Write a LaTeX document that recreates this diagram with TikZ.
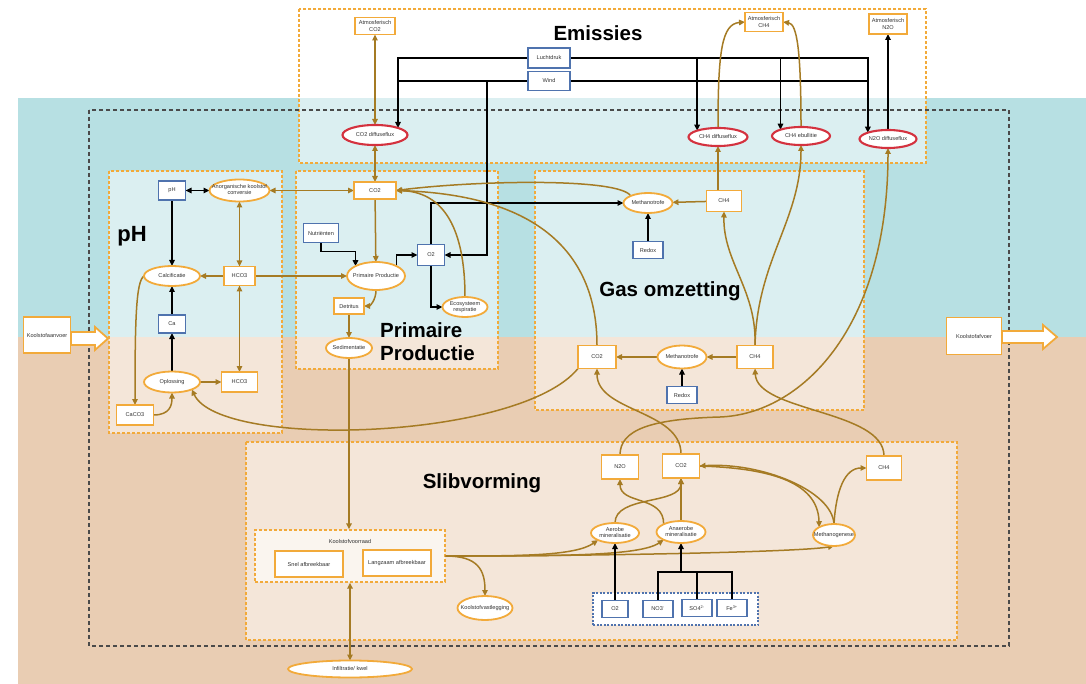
\documentclass[tikz,border=0pt]{standalone}
\usepackage{fontspec}
\setmainfont{Liberation Sans}
\usetikzlibrary{shapes.geometric,arrows.meta}
\definecolor{cTeal}{HTML}{B7E0E3}
\definecolor{cTan}{HTML}{E9CDB3}
\definecolor{cOr}{HTML}{F2AA3A}
\definecolor{cBr}{HTML}{A57B24}
\definecolor{cBl}{HTML}{4F73AE}
\definecolor{cRed}{HTML}{D4323F}
\definecolor{cTxt}{HTML}{333333}
\definecolor{cDash}{HTML}{4A4A4A}
\pgfdeclarelayer{bg}\pgfdeclarelayer{edges}
\pgfsetlayers{bg,edges,main}
\newcommand\zw[1]{\makebox[0pt]{\begin{tabular}{@{}c@{}}#1\end{tabular}}}
\tikzset{
 nd/.style={font=\fontsize{5.6}{6.3}\selectfont, text=cTxt, inner sep=0pt, outer sep=0pt, align=center, fill=white},
 sz/.style 2 args={minimum width=#1, minimum height=#2},
 ob/.style={nd, rectangle, draw=cOr, line width=1.8pt},
 bb/.style={nd, rectangle, draw=cBl, line width=1.7pt},
 oe/.style={nd, ellipse, draw=cOr, line width=1.8pt},
 re/.style={nd, ellipse, draw=cRed, line width=2.1pt},
 tip/.tip={Triangle[length=6pt,width=5.5pt]},
 br/.style={draw=cBr, line width=1.5pt, -tip},
 brr/.style={draw=cBr, line width=1.5pt, tip-tip},
 bk/.style={draw=black, line width=1.5pt, -tip},
 bkk/.style={draw=black, line width=1.5pt, tip-tip},
 bkl/.style={draw=black, line width=1.5pt},
 bkt/.style={draw=black, line width=2.2pt},
 grp/.style={draw=cOr, line width=1.6pt, dash pattern=on 3pt off 2pt, fill=white, fill opacity=0.5},
 ttl/.style={font=\fontsize{20.5}{23}\selectfont\bfseries, text=black, inner sep=0pt},
}
\begin{document}
\begin{tikzpicture}[x=1pt,y=-1pt]
\useasboundingbox (0,0) rectangle (1086,684);
\begin{pgfonlayer}{bg}
\fill[white] (0,0) rectangle (1086,684);
\fill[cTeal] (18,98) rectangle (1086,337);
\fill[cTan] (18,337) rectangle (1086,684);
\draw[grp] (299,9) rectangle (926,163);
\draw[grp] (109,171) rectangle (282,433);
\draw[grp] (296,171) rectangle (498,369);
\draw[grp] (535,171) rectangle (864,410);
\draw[grp] (246,442) rectangle (957,640);
\draw[cDash, line width=1.5pt, dash pattern=on 4pt off 3pt] (89,110) rectangle (1009,646);
\node[draw=cOr, line width=1.4pt, dash pattern=on 3pt off 2pt, fill=white, fill opacity=0.6, sz={190}{52}] (kvr) at (350,556) {};
\node[draw=cBl, line width=1.5pt, dash pattern=on 2pt off 1.5pt, fill=white, sz={165}{32}] (ox) at (675.5,609) {};
% block arrows
\filldraw[fill=white, draw=cOr, line width=1.8pt] (71,332) -- (95,332) -- (95,327) -- (108,338.5) -- (95,350) -- (95,345) -- (71,345) -- cycle;
\filldraw[fill=white, draw=cOr, line width=1.8pt] (1002,331) -- (1043,331) -- (1043,325) -- (1057,337) -- (1043,349) -- (1043,343) -- (1002,343) -- cycle;
\end{pgfonlayer}

% titles
\node[ttl] (tEm) at (598,33) {Emissies};
\node[ttl, font=\fontsize{22}{24}\selectfont\bfseries] (tpH) at (132,236) {pH};
\node[ttl, align=left, anchor=west] (tPP) at (380,342) {Primaire\\Productie};
\node[ttl] (tGas) at (670,291) {Gas omzetting};
\node[ttl] (tSlib) at (482,483) {Slibvorming};

% outer
\node[ob, sz={47}{36}] (aanv) at (47,335) {Koolstofaanvoer};
\node[ob, sz={55}{37}] (afv) at (974,336) {Koolstofafvoer};

% emissies
\node[ob, sz={40}{17}] (atmco2) at (375,26) {Atmosferisch\\CO2};
\node[bb, sz={42}{20}] (lucht) at (549,58) {Luchtdruk};
\node[bb, sz={42}{19}] (wind) at (549,81) {Wind};
\node[re, sz={65}{20}] (co2df) at (375,135) {\zw{CO2 diffuseflux}};
\node[ob, sz={38}{19}] (atmch4) at (764,22) {Atmosferisch\\CH4};
\node[ob, sz={38}{20}] (atmn2o) at (888,24) {Atmosferisch\\N2O};
\node[re, sz={59}{18}] (ch4df) at (718,137) {\zw{CH4 diffuseflux}};
\node[re, sz={58}{18}] (ch4eb) at (801,136) {\zw{CH4 ebullitie}};
\node[re, sz={57}{18}] (n2odf) at (888,139) {\zw{N2O diffuseflux}};

% pH
\node[bb, sz={27}{19}] (ph) at (172,190.5) {pH};
\node[oe, sz={60}{22}] (anorg) at (239.5,190.5) {\zw{Anorganische koolstof\\conversie}};
\node[oe, sz={56}{20}] (calc) at (172,276) {\zw{Calcificatie}};
\node[ob, sz={31}{19}] (hco3a) at (239.5,276) {HCO3};
\node[bb, sz={27}{18}] (ca) at (172,324) {Ca};
\node[oe, sz={56}{21}] (opl) at (172,382) {\zw{Oplossing}};
\node[ob, sz={36}{20}] (hco3b) at (239.5,382) {HCO3};
\node[ob, sz={37}{20}] (caco3) at (135,415) {CaCO3};

% primaire productie
\node[ob, sz={42}{17}] (co2pp) at (375,190.5) {CO2};
\node[bb, sz={35}{19}] (nutr) at (321,233) {Nutriënten};
\node[oe, sz={58}{28}] (pp) at (376,276) {\zw{Primaire Productie}};
\node[ob, sz={30}{16}] (detr) at (349,306) {Detritus};
\node[oe, sz={46}{20}] (sedi) at (349,348) {\zw{Sedimentatie}};
\node[bb, sz={27}{21}] (o2) at (431,255) {O2};
\node[oe, sz={45}{20}] (eco) at (465,307) {\zw{Ecosysteem\\respiratie}};

% gas omzetting
\node[oe, sz={49}{20}] (mta) at (648,203) {\zw{Methanotrofe}};
\node[ob, sz={35}{21}] (ch4a) at (724,201) {CH4};
\node[bb, sz={30}{17}] (rdxa) at (648,250) {Redox};
\node[ob, sz={38}{23}] (co2g) at (597,357) {CO2};
\node[oe, sz={49}{23}] (mtb) at (682,357) {\zw{Methanotrofe}};
\node[ob, sz={36}{23}] (ch4b) at (755,357) {CH4};
\node[bb, sz={30}{17}] (rdxb) at (682,395) {Redox};

% slibvorming
\node[ob, sz={37}{24}] (n2os) at (620,467) {N2O};
\node[ob, sz={37}{24}] (co2s) at (681,466) {CO2};
\node[ob, sz={35}{24}] (ch4s) at (884,468) {CH4};
\node[oe, sz={48}{20}] (aer) at (615,533) {\zw{Aerobe\\mineralisatie}};
\node[oe, sz={49}{22}] (anaer) at (681,532) {\zw{Anaerobe\\mineralisatie}};
\node[oe, sz={42}{22}] (meth) at (834,535) {\zw{Methanogenese}};
\node[bb, sz={26}{17}] (o2s) at (615,609) {O2};
\node[bb, sz={30}{17}] (no3) at (658,609) {NO3\textsuperscript{-}};
\node[bb, sz={30}{17}] (so4) at (697,608) {SO4\textsuperscript{2-}};
\node[bb, sz={30}{17}] (fe) at (732,608) {Fe\textsuperscript{3+}};
\node[nd, fill=none] (kvrl) at (350,541) {Koolstofvoorraad};
\node[ob, sz={68}{26}] (snel) at (309,564) {Snel afbreekbaar};
\node[ob, sz={68}{26}] (langz) at (397,563) {Langzaam afbreekbaar};
\node[oe, sz={55}{24}] (kvast) at (485,608) {\zw{Koolstofvastlegging}};
\node[oe, sz={124}{17}] (infil) at (350,669) {\zw{Infiltratie/ kwel}};

\coordinate (wj) at (487,81);
\coordinate (aj) at (681,572);

\begin{pgfonlayer}{edges}
% emissies black
\draw[bk] (lucht.west) -| (co2df.north east);
\draw[bkl] (wind.west) -- (wind.west -| co2df.north east);
\draw[bkt, -tip] (lucht.east) -| (n2odf.north west);
\draw[bk] (lucht.east -| ch4df.north west) -- (ch4df.north west);
\draw[bk] (lucht.east -| ch4eb.north west) -- (ch4eb.north west);
\draw[bkt] (wind.east) -- (wind.east -| n2odf.north west);
\draw[bk] (n2odf) -- (atmn2o);
\draw[bk] (wj) |- (o2.east);
% emissies brown
\draw[brr] (atmco2) -- (co2df);
\draw[brr] (co2df) -- (co2pp);
\draw[br] (ch4df.north) .. controls (718,50) and (722,24) .. (atmch4.west);
\draw[br] (ch4eb.north) .. controls (801,50) and (797,24) .. (atmch4.east);
% pH
\draw[bkk] (ph) -- (anorg);
\draw[bk] (ph) -- (calc);
\draw[brr] (anorg) -- (hco3a);
\draw[brr] (anorg) -- (co2pp);
\draw[br] (hco3a) -- (calc);
\draw[br] (hco3a) -- (pp);
\draw[brr] (hco3a) -- (hco3b);
\draw[bk] (ca) -- (calc);
\draw[bk] (opl) -- (ca);
\draw[br] (opl) -- (hco3b);
\draw[br] (calc.west) .. controls (136,281) and (135,320) .. (caco3.north);
\draw[br] (caco3.east) .. controls (170,415) and (172,405) .. (opl.south);
\draw[br] (co2g.south west) .. controls (520,440) and (220,450) .. (opl.south east);
% primaire productie
\draw[br] (co2pp) -- (pp);
\draw[bk] (nutr.south) -- ++(0,9) -| (pp.north west);
\draw[bk] (pp.north east) |- (o2.west);
\draw[bk] (o2.north) |- (mta.west);
\draw[bk] (o2.south) |- (eco.west);
\draw[br] (eco.north) .. controls (465,240) and (450,192) .. (co2pp.east);
\draw[br] (pp.south) .. controls (376,300) and (370,306) .. (detr.east);
\draw[br] (detr) -- (sedi);
\draw[br] (sedi.south) -- (sedi.south |- kvr.north);
\draw[br] (mta.north west) .. controls (620,178) and (480,180) .. (co2pp.east);
\draw[br] (co2g.north) .. controls (597,255) and (540,195) .. (co2pp.east);
% gas omzetting
\draw[br] (ch4a) -- (mta);
\draw[bk] (rdxa) -- (mta);
\draw[br] (ch4a.north -| ch4df.south) -- (ch4df.south);
\draw[br] (ch4b.north) .. controls (757,290) and (723,262) .. (ch4a.south);
\draw[br] (ch4b.north) .. controls (757,260) and (801,220) .. (ch4eb.south);
\draw[br] (ch4b) -- (mtb);
\draw[br] (mtb) -- (co2g);
\draw[bk] (rdxb) -- (mtb);
\draw[br] (co2s.north) .. controls (681,410) and (597,412) .. (co2g.south);
\draw[br] (ch4s.north) .. controls (884,410) and (757,412) .. (ch4b.south);
\draw[br] (n2os.north) .. controls (620,430) and (650,419) .. (720,417) .. controls (800,414) and (888,330) .. (n2odf.south);
% slibvorming
\draw[br] (aer.north) .. controls (615,495) and (681,505) .. (co2s.south);
\draw[br] (anaer.north west) .. controls (664,495) and (620,505) .. (n2os.south);
\draw[br] (anaer) -- (co2s);
\draw[br] (co2s.east) .. controls (765,468) and (818,480) .. (meth.north west);
\draw[br] (meth.north) .. controls (832,490) and (760,462) .. (co2s.east);
\draw[br] (meth.north) .. controls (836,490) and (845,468) .. (ch4s.west);
\draw[br] (kvr.east) .. controls (520,556) and (575,556) .. (aer.south west);
\draw[br] (kvr.east) .. controls (560,556) and (640,556) .. (anaer.south west);
\draw[br] (kvr.east) .. controls (600,556) and (800,552) .. (meth.south);
\draw[br] (kvr.east) .. controls (478,556) and (485,570) .. (kvast.north);
\draw[brr] (infil.north) -- (infil.north |- kvr.south);
\draw[bk] (o2s) -- (aer);
\draw[bkl] (no3.north) |- (aj) -| (fe.north);
\draw[bkl] (so4.north) -- (so4.north |- aj);
\draw[bk] (aj) -- (anaer.south);
\end{pgfonlayer}
\end{tikzpicture}
\end{document}
